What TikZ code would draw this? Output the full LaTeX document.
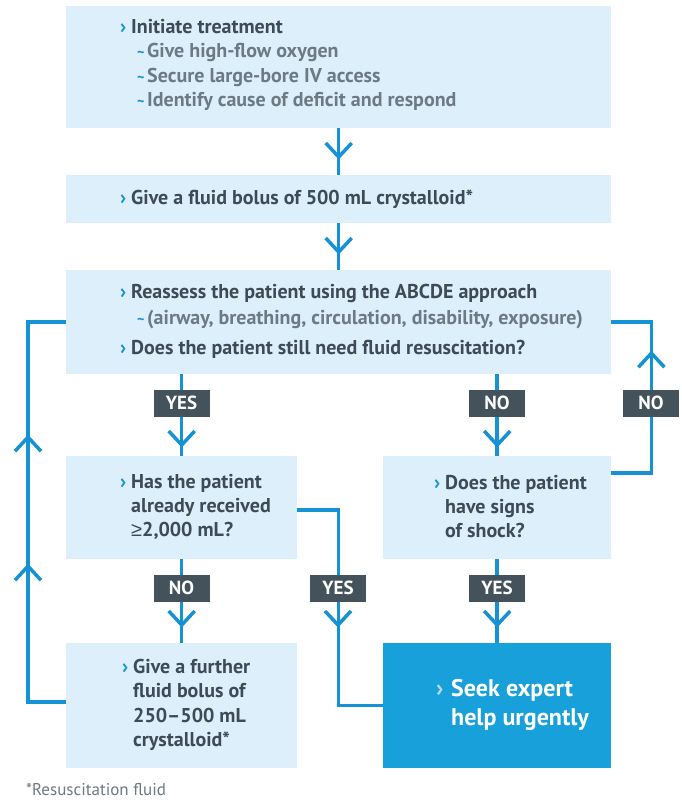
\documentclass[tikz,border=0pt]{standalone}
\usepackage{fontspec}
\setmainfont{PT Sans}
\newfontfamily\symfont{Liberation Sans}
\usetikzlibrary{calc}
\definecolor{lineblue}{HTML}{1592D3}
\definecolor{boxfill}{HTML}{DCEFFA}
\definecolor{darkfill}{HTML}{17A0D9}
\definecolor{txt}{HTML}{3E4A54}
\definecolor{subtxt}{HTML}{6D7A84}
\definecolor{lab}{HTML}{44525B}
\definecolor{lightchev}{HTML}{B5DDF2}
\newcommand\chev{\makebox[11pt][l]{\textcolor{lineblue}{›}}}
\newcommand\subl[1]{\hspace*{17pt}\makebox[10pt][l]{\textcolor{lineblue}{\fontsize{14}{14}\selectfont\textasciitilde}}\textcolor{subtxt}{#1}}
\begin{document}
\begin{tikzpicture}[x=1pt,y=-1pt,
  box/.style={fill=boxfill, draw=none, anchor=north west, inner sep=0pt},
  conn/.style={draw=lineblue, line width=3.5pt},
  lbl/.style={fill=lab, text=white, font=\bfseries\fontsize{19}{19}\selectfont, minimum width=56pt, minimum height=27pt, inner sep=0pt},
  txtnode/.style={anchor=west, align=left, text=txt, font=\bfseries\fontsize{20}{24.5}\selectfont, inner sep=0pt},
  headdown/.pic={\draw[conn, line join=miter] (-13,-14) -- (0,0) -- (13,-14);},
  headup/.pic={\draw[conn, line join=miter] (-13,14) -- (0,0) -- (13,14);}
]
\useasboundingbox (0,0) rectangle (681,800);
\fill[white] (0,0) rectangle (681,800);

% boxes
\node[box, minimum width=545pt, minimum height=122pt] (b1) at (66,6) {};
\node[box, minimum width=545pt, minimum height=48pt] (b2) at (66,175) {};
\node[box, minimum width=545pt, minimum height=104pt] (b3) at (66,270) {};
\node[box, minimum width=231pt, minimum height=103pt] (b4) at (66,456) {};
\node[box, minimum width=228pt, minimum height=103pt] (b6) at (383,456) {};
\node[box, minimum width=231pt, minimum height=125pt] (b5) at (66,643) {};
\node[box, fill=darkfill, minimum width=228pt, minimum height=125pt] (b7) at (383,643) {};

% connectors
\draw[conn] (b1.south) -- (b2.north);
\draw[conn] (b2.south) -- (b3.north);
\draw[conn] (b3.south -| b4.north) -- (b4.north);
\draw[conn] (b3.south -| b6.north) -- (b6.north);
\draw[conn] (b4.south) -- (b5.north);
\draw[conn] (b6.south) -- (b7.north);
\coordinate (c4e) at ($(b4.north east)+(0,54)$);
\draw[conn] (c4e) -- ++(41,0) |- (b7.west);
\coordinate (c5w) at ($(b5.north west)+(0,59)$);
\draw[conn] (c5w) -- ++(-38,0) |- (b3.west);
\coordinate (c6e) at ($(b6.north east)+(0,17)$);
\draw[conn] (c6e) -- ++(40,0) |- (b3.east);

% arrow heads
\pic at ($(b2.north)+(0,-18)$) {headdown};
\pic at ($(b3.north)+(0,-18)$) {headdown};
\pic at ($(b4.north)+(0,-11)$) {headdown};
\pic at ($(b6.north)+(0,-11)$) {headdown};
\pic at ($(b5.north)+(0,-18)$) {headdown};
\pic at ($(b7.north)+(0,-18)$) {headdown};
\pic at ($(b7.north west)+(-45,-18)$) {headdown};
\pic at ($(b3.west)+(-38,115)$) {headup};
\pic at ($(b3.west)+(-38,244)$) {headup};
\pic at ($(b3.east)+(40,31)$) {headup};

% labels
\node[lbl] (l1) at (181.5,403) {YES};
\node[lbl] (l2) at (497,403) {NO};
\node[lbl] (l3) at (651,403) {NO};
\node[lbl] (l4) at (181.5,588) {NO};
\node[lbl] (l5) at (338,588) {YES};
\node[lbl] (l6) at (497,588) {YES};

% texts
\node[txtnode] (t1) at (120,65) {\chev Initiate treatment\\
  \subl{Give high-flow oxygen}\\
  \subl{Secure large-bore IV access}\\
  \subl{Identify cause of deficit and respond}};
\node[txtnode] (t2) at (120,199) {\chev Give a fluid bolus of 500 mL crystalloid*};
\node[txtnode, font=\bfseries\fontsize{20}{26}\selectfont] (t3) at (120,321) {\chev Reassess the patient using the ABCDE approach\\
  \subl{(airway, breathing, circulation, disability, exposure)}\\[4pt]
  \chev Does the patient still need fluid resuscitation?};
\node[txtnode, font=\bfseries\fontsize{20}{24}\selectfont] (t4) at (120,507) {\chev Has the patient\\
  \hspace*{11pt}already received\\
  \hspace*{11pt}{\symfont\mdseries ≥}2,000 mL?};
\node[txtnode, font=\bfseries\fontsize{20}{24}\selectfont] (t6) at (434,507) {\chev Does the patient\\
  \hspace*{11pt}have signs\\
  \hspace*{11pt}of shock?};
\node[txtnode] (t5) at (122,705) {\chev Give a further\\
  \hspace*{11pt}fluid bolus of\\
  \hspace*{11pt}250–500 mL\\
  \hspace*{11pt}crystalloid*};
\node[txtnode, text=white, font=\bfseries\fontsize{24}{29}\selectfont] (t7) at (436,705) {\makebox[15pt][l]{\textcolor{lightchev}{›}}Seek expert\\
  \hspace*{15pt}help urgently};
\node[anchor=west, inner sep=0pt, text=subtxt, font=\fontsize{17}{17}\selectfont] (fn) at (26,790) {*Resuscitation fluid};
\end{tikzpicture}
\end{document}
